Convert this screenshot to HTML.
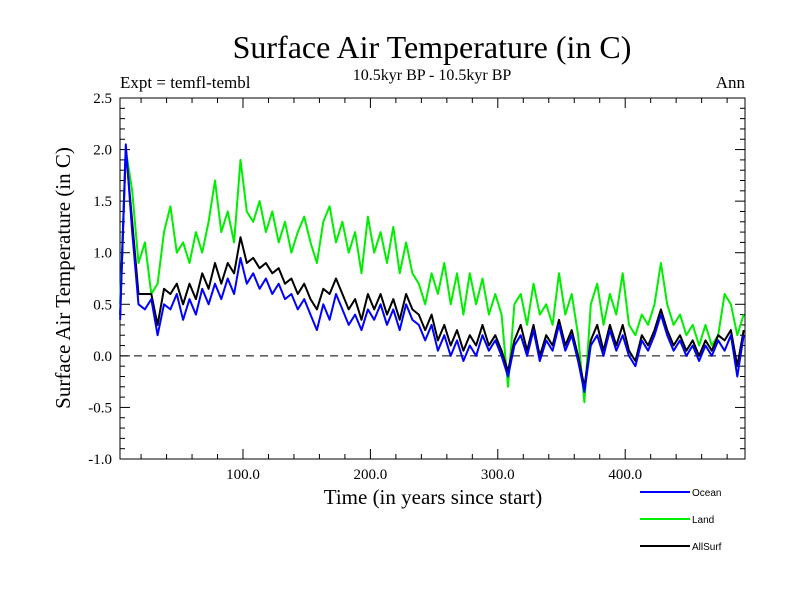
<!DOCTYPE html>
<html><head><meta charset="utf-8"><style>
body{margin:0;background:#fff;}
svg text{font-family:"Liberation Serif",serif;}
</style></head><body>
<svg width="800" height="600" xmlns="http://www.w3.org/2000/svg">
<rect width="800" height="600" fill="#fff"/>
<text x="432" y="58" font-size="32" text-anchor="middle">Surface Air Temperature (in C)</text>
<text x="432" y="80" font-size="16" text-anchor="middle">10.5kyr BP - 10.5kyr BP</text>
<text x="120" y="88" font-size="17">Expt = temfl-tembl</text>
<text x="745" y="88" font-size="17" text-anchor="end">Ann</text>
<text x="433" y="504" font-size="21" text-anchor="middle">Time (in years since start)</text>
<text transform="translate(70,278) rotate(-90)" font-size="21" text-anchor="middle">Surface Air Temperature (in C)</text>
<g id="axes"></g>
<g id="series"></g>
<g id="legend"></g>
</svg>
<script>
const yTicks=[2.5,2.0,1.5,1.0,0.5,0.0,-0.5,-1.0];
const xTicks=[100,200,300,400];
const xTickLabels=["100.0","200.0","300.0","400.0"];
const seriesNames=["Ocean","Land","AllSurf"];
const seriesColors=["#0000ff","#00ee00","#000000"];
const ocean=[0.35,2.05,1.2,0.5,0.45,0.55,0.2,0.5,0.45,0.6,0.35,0.55,0.4,0.65,0.5,0.7,0.55,0.75,0.6,0.95,0.7,0.8,0.65,0.75,0.6,0.7,0.55,0.6,0.45,0.55,0.4,0.25,0.5,0.35,0.6,0.45,0.3,0.4,0.25,0.45,0.35,0.5,0.3,0.45,0.25,0.5,0.35,0.3,0.15,0.3,0.05,0.2,0.0,0.15,-0.05,0.1,0.0,0.2,0.05,0.15,0.0,-0.2,0.1,0.2,0.0,0.25,-0.05,0.15,0.05,0.3,0.05,0.2,-0.05,-0.35,0.1,0.2,0.0,0.25,0.05,0.2,0.0,-0.1,0.15,0.05,0.2,0.4,0.2,0.05,0.15,0.0,0.1,-0.05,0.1,0.0,0.15,0.05,0.2,-0.2,0.2];
const land=[0.5,2.0,1.6,0.9,1.1,0.6,0.7,1.2,1.45,1.0,1.1,0.9,1.2,1.0,1.3,1.7,1.2,1.4,1.1,1.9,1.4,1.3,1.5,1.2,1.4,1.1,1.3,1.0,1.2,1.35,1.1,0.9,1.3,1.45,1.1,1.3,1.0,1.2,0.8,1.35,1.0,1.2,0.9,1.25,0.8,1.1,0.8,0.7,0.5,0.8,0.6,0.9,0.5,0.8,0.4,0.8,0.5,0.75,0.4,0.6,0.4,-0.3,0.5,0.6,0.3,0.7,0.4,0.5,0.3,0.8,0.4,0.6,0.2,-0.45,0.5,0.7,0.3,0.6,0.4,0.8,0.3,0.2,0.4,0.3,0.5,0.9,0.5,0.3,0.4,0.2,0.3,0.1,0.3,0.1,0.2,0.6,0.5,0.2,0.4];
const allsurf=[0.4,2.0,1.3,0.6,0.6,0.6,0.3,0.65,0.6,0.7,0.5,0.7,0.55,0.8,0.65,0.9,0.7,0.9,0.8,1.15,0.9,0.95,0.85,0.9,0.8,0.85,0.7,0.75,0.6,0.7,0.55,0.45,0.65,0.6,0.75,0.6,0.45,0.55,0.35,0.6,0.45,0.6,0.4,0.55,0.35,0.6,0.45,0.4,0.25,0.4,0.15,0.3,0.1,0.25,0.05,0.2,0.1,0.3,0.1,0.2,0.05,-0.15,0.15,0.3,0.05,0.3,0.0,0.2,0.1,0.35,0.1,0.25,0.0,-0.3,0.15,0.3,0.05,0.3,0.1,0.3,0.05,-0.05,0.2,0.1,0.25,0.45,0.25,0.1,0.2,0.05,0.15,0.0,0.15,0.05,0.2,0.15,0.25,-0.1,0.25];
const startYear=3, stepYear=5;

const X0=120,X1=745,Y0=98,Y1=459;
const xmin=3.5,xmax=494;
function sx(v){return 115.6+v*1.274;}
function sy(v){return Y0+(2.5-v)*(Y1-Y0)/3.5;}
const NS="http://www.w3.org/2000/svg";
function mk(tag,attrs,parent){const e=document.createElementNS(NS,tag);for(const k in attrs)e.setAttribute(k,attrs[k]);parent.appendChild(e);return e;}
const axes=document.getElementById('axes');
const frame=mk('rect',{x:X0,y:Y0,width:X1-X0,height:Y1-Y0,fill:'none',stroke:'#000','stroke-width':1},axes);


const zl=mk('line',{x1:X0,x2:X1,y1:sy(0),y2:sy(0),stroke:'#000','stroke-dasharray':'8,6','stroke-width':1},axes);


for(let v=-1.0;v<=2.5001;v+=0.1){const y=sy(v);const major=Math.abs(v*2-Math.round(v*2))<1e-6;const L=major?10:5;
 mk('line',{x1:X0,x2:X0+L,y1:y,y2:y,stroke:'#000'},axes);mk('line',{x1:X1,x2:X1-L,y1:y,y2:y,stroke:'#000'},axes);}
yTicks.forEach(v=>{const t=mk('text',{x:X0-8,y:sy(v)+5,'font-size':15,'text-anchor':'end'},axes);t.textContent=v.toFixed(1);
 
 });
for(let v=20;v<xmax;v+=20){const x=sx(v);const major=v%100===0;const L=major?10:5;
 mk('line',{x1:x,x2:x,y1:Y1,y2:Y1-L,stroke:'#000'},axes);mk('line',{x1:x,x2:x,y1:Y0,y2:Y0+L,stroke:'#000'},axes);}
xTicks.forEach((v,i)=>{const t=mk('text',{x:sx(v),y:Y1+20,'font-size':15,'text-anchor':'middle'},axes);t.textContent=xTickLabels[i];
 
 });
const ser=document.getElementById('series');
const order=[1,2,0];
const data=[ocean,land,allsurf];
order.forEach(k=>{const arr=data[k];const pts=arr.map((v,i)=>sx(Math.max(xmin,startYear+i*stepYear)).toFixed(1)+','+sy(v).toFixed(1)).join(' ');
 const p=mk('polyline',{points:pts,fill:'none',stroke:seriesColors[k],'stroke-width':2,'stroke-linejoin':'round'},ser);
 
 });
const lg=document.getElementById('legend');
seriesNames.forEach((n,k)=>{const y=492+k*27;
 const l=mk('line',{x1:640,x2:690,y1:y,y2:y,stroke:seriesColors[k],'stroke-width':2},lg);
 
 
 const t=mk('text',{x:692,y:y+4,'font-size':10,style:'font-family:"Liberation Sans",sans-serif'},lg);t.textContent=n;
 
 });
</script>
</body></html>
